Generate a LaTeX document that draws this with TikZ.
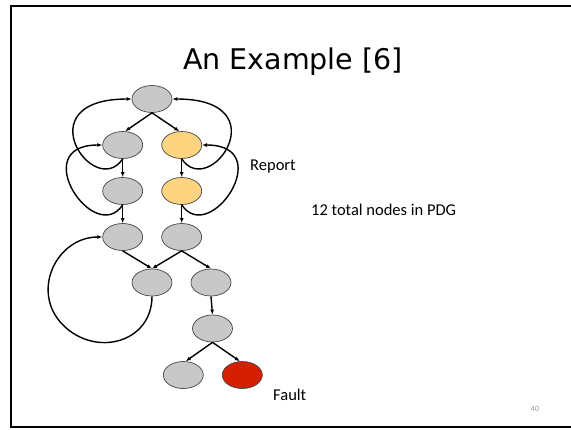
\documentclass[tikz,border=0pt]{standalone}
\usepackage{fontspec}
\setmainfont{Carlito}
\newfontfamily\titlefont{DejaVu Sans}
\usetikzlibrary{shapes.geometric,arrows.meta}

\definecolor{nodegray}{RGB}{200,200,200}
\definecolor{rimgray}{RGB}{70,70,70}
\definecolor{reportyellow}{RGB}{255,212,128}
\definecolor{faultred}{RGB}{212,32,0}

\begin{document}
\begin{tikzpicture}[>={Latex[length=5pt,width=4pt]}, x=1pt, y=-1pt,
        pdg/.style={ellipse,draw=rimgray,line width=0.7pt,fill=nodegray,
            minimum width=40pt,minimum height=27pt,inner sep=0pt},
        dep/.style={->,line width=1.4pt},
        slidetext/.style={anchor=base west,inner sep=0pt,font=\fontsize{16.5}{19}\selectfont}]
    \useasboundingbox (0,0) rectangle (571,429);

    % slide frame, open on the right
    \draw[line width=2pt] (571,5.7) -- (11,5.7) -- (11,427.3) -- (571,427.3);

    \node[anchor=base,inner sep=0pt] (title) at (293,69.5)
        {\titlefont\fontsize{28.5}{32}\selectfont An Example [6]};

    \path
        % 1st layer
        +(152,99)    node[pdg] (n1) {}
        % 2nd layer
        +(122.7,145) node[pdg] (n2l) {}
        +(181.7,145) node[pdg,fill=reportyellow] (n2r) {}
        % 3rd layer
        +(122.7,191) node[pdg] (n3l) {}
        +(181.7,191) node[pdg,fill=reportyellow] (n3r) {}
        % 4th layer
        +(122.7,237) node[pdg] (n4l) {}
        +(181.7,237) node[pdg] (n4r) {}
        % 5th layer
        +(152,282.5) node[pdg] (n5l) {}
        +(211,282.5) node[pdg] (n5r) {}
        % 6th layer
        +(212.5,328.5) node[pdg] (n6) {}
        % 7th layer
        +(183.3,375) node[pdg] (n7l) {}
        +(242.3,375) node[pdg,fill=faultred] (n7r) {};

    \draw[dep] (n1.south) -- (n2l.80);
    \draw[dep] (n1.south) -- (n2r.100);
    \draw[dep] (n2l.south) -- (n3l.north);
    \draw[dep] (n2r.south) -- (n3r.north);
    \draw[dep] (n3l.south) -- (n4l.north);
    \draw[dep] (n3r.south) -- (n4r.north);
    \draw[dep] (n4l.south) -- (n5l.north);
    \draw[dep] (n4r.south) -- (n5l.north);
    \draw[dep] (n4r.south) -- (n5r.north);
    \draw[dep] (n5r.south) -- (n6.north);
    \draw[dep] (n6.south) -- (n7l.80);
    \draw[dep] (n6.south) -- (n7r.100);

    % back edges, left side
    \draw[dep] (n2l.south) .. controls +(-28,42) and +(-108,0) .. (n1.west);
    \draw[dep] (n3l.south) .. controls +(-28,42) and +(-76,0) .. (n2l.west);
    % back edges, right side
    \draw[dep] (n2r.south) .. controls +(28,42) and +(108,0) .. (n1.east);
    \draw[dep] (n3r.south) .. controls +(28,42) and +(76,0) .. (n2r.east);
    % big loop back to the 4th layer
    \coordinate (loopbl) at (63,325);
    \draw[dep] (n5l.south) .. controls +(0,46) and +(33,33) .. (loopbl)
        .. controls +(-33,-33) and +(-46,0) .. (n4l.west);

    \node[slidetext] (report) at (250,170) {Report};
    \node[slidetext] (total) at (311,215.5) {12 total nodes in PDG};
    \node[slidetext] (fault) at (273,400) {Fault};
    \node[anchor=base,inner sep=0pt,text=black!40,font=\fontsize{8}{9}\selectfont] (pageno) at (535,411.5) {40};
\end{tikzpicture}
\end{document}
